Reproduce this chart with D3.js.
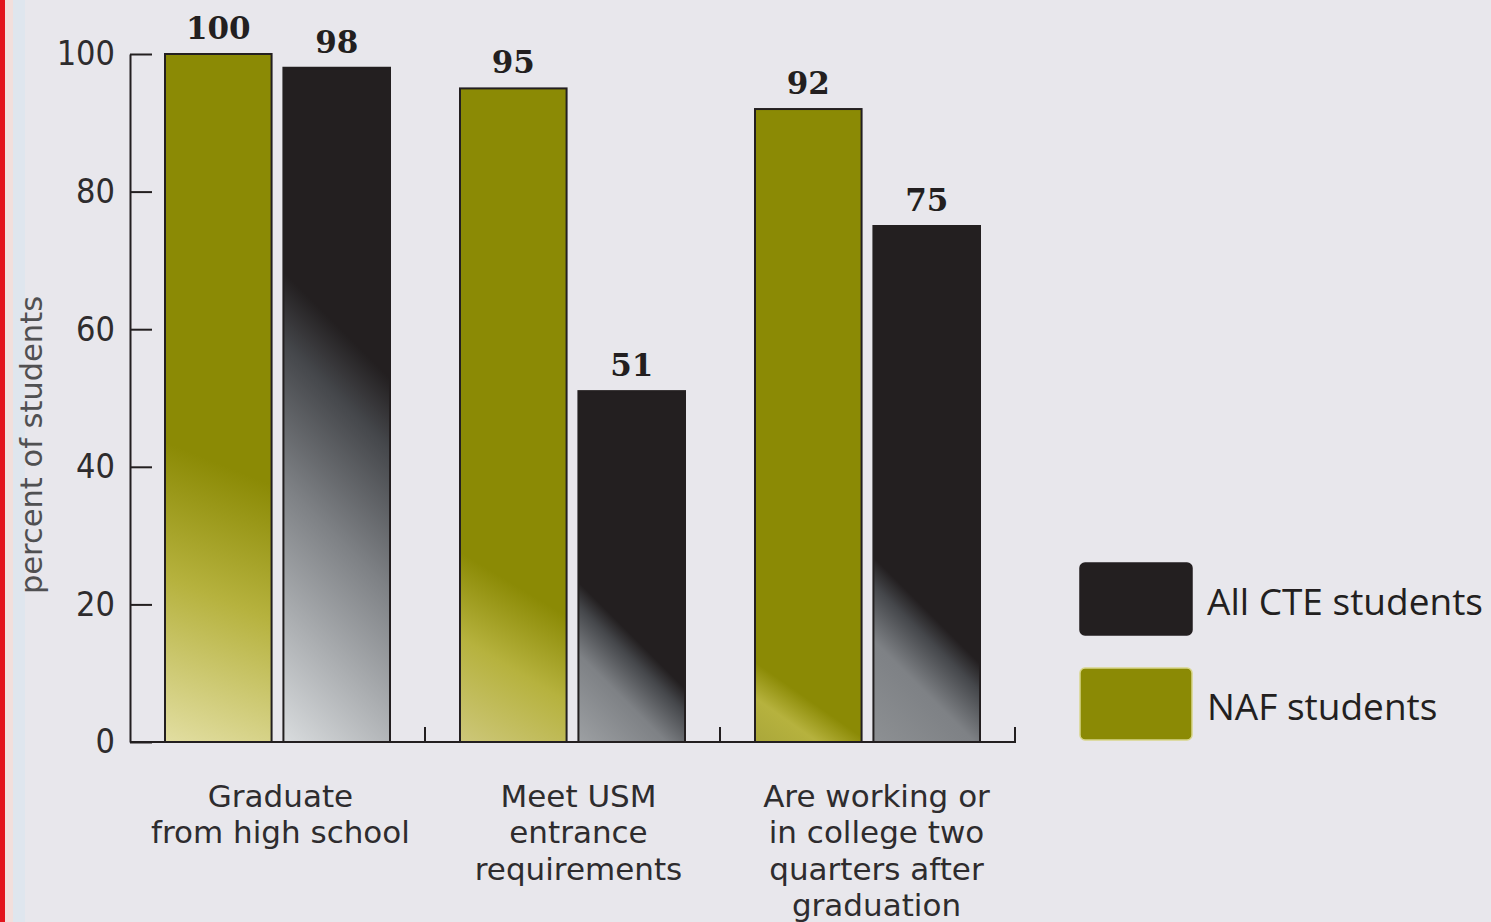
<!DOCTYPE html>
<html>
<head>
<meta charset="utf-8">
<script src="https://cdn.jsdelivr.net/npm/d3@7"></script>
<style>
  html, body { margin: 0; padding: 0; background: #e8e7ec; }
  svg { display: block; }
</style>
</head>
<body>
<svg id="chart" width="1491" height="922"></svg>
<script>
// Outcomes for NAF students compared with all CTE students
const categories = [
  ["Graduate", "from high school"],
  ["Meet USM", "entrance", "requirements"],
  ["Are working or", "in college two", "quarters after", "graduation"]
];
const seriesNames = ["NAF students", "All CTE students"];
const nafValues = [100, 95, 92];
const cteValues = [98, 51, 75];
const yTicks = [0, 20, 40, 60, 80, 100];
const yTitle = "percent of students";

// Shading of each bar: how high the light wash reaches, its slant, and its palest colour
const nafShade = [
  { reach: 300, slant: 0.4, light: "#e2dea2" },
  { reach: 190, slant: 0.6, light: "#cdc77a" },
  { reach: 80,  slant: 0.7, light: "#aaa73a" }
];
const cteShade = [
  { reach: 470, slant: 1.0, light: "#d9dcde" },
  { reach: 160, slant: 1.0, light: "#9da0a3" },
  { reach: 185, slant: 1.0, light: "#8d9093" }
];

const NAF_COLOR = "#8b8a05";
const CTE_COLOR = "#231f20";

const svg = d3.select("#chart");
const defs = svg.append("defs");

// page frame: red rule on the left edge
svg.append("rect").attr("x", 0).attr("y", 0).attr("width", 1491).attr("height", 922).attr("fill", "#e8e7ec");
svg.append("rect").attr("x", 5).attr("y", 0).attr("width", 8).attr("height", 922).attr("fill", "#f2dfdc");
svg.append("rect").attr("x", 13).attr("y", 0).attr("width", 12).attr("height", 922).attr("fill", "#dfe6ee");
svg.append("rect").attr("x", 0).attr("y", 0).attr("width", 5).attr("height", 922).attr("fill", "#e3141b");

const plotLeft = 130, plotRight = 1015, plotTop = 54, plotBottom = 742;

const x0 = d3.scaleBand().domain(d3.range(categories.length)).range([plotLeft, plotRight]).padding(0);
const x1 = d3.scaleBand().domain([0, 1]).range([35, x0.bandwidth() - 35]).paddingInner(0.1).paddingOuter(0);
const y = d3.scaleLinear().domain([0, 100]).range([plotBottom, plotTop]);

// y axis with inward ticks
const yAxis = svg.append("g")
  .attr("transform", `translate(${plotLeft},0)`)
  .call(d3.axisLeft(y).tickValues(yTicks).tickSizeInner(-22).tickSizeOuter(0).tickPadding(15));
yAxis.select(".domain").attr("stroke", "#231f20").attr("stroke-width", 2);
yAxis.selectAll(".tick line").attr("stroke", "#231f20").attr("stroke-width", 2);
yAxis.selectAll(".tick text")
  .attr("font-family", "'DejaVu Sans Condensed', 'DejaVu Sans', Verdana, sans-serif")
  .attr("font-stretch", "condensed")
  .attr("font-size", 34).attr("fill", "#2e2c2e");

svg.append("text")
  .attr("transform", "translate(42,445) rotate(-90)")
  .attr("text-anchor", "middle")
  .attr("font-family", "'DejaVu Sans', Verdana, sans-serif")
  .attr("font-size", 30.5).attr("fill", "#505052")
  .text(yTitle);

// bars
const rows = categories.map((c, i) => ({ i, values: [nafValues[i], cteValues[i]] }));

function addGradient(id, bx, by, bw, bh, shade, dark, stops) {
  const k = shade.slant, t = shade.reach / (k * k + 1);
  const g = defs.append("linearGradient").attr("id", id)
    .attr("gradientUnits", "userSpaceOnUse")
    .attr("x1", bx).attr("y1", by + bh)
    .attr("x2", bx + k * t).attr("y2", by + bh - t);
  stops.forEach(s => g.append("stop").attr("offset", s[0]).attr("stop-color", s[1] === "L" ? shade.light : s[1] === "D" ? dark : s[1]));
}

rows.forEach(r => {
  const gx = x0(r.i);
  r.values.forEach((v, j) => {
    const bx = gx + x1(j), bw = x1.bandwidth(), by = y(v), bh = y(0) - y(v);
    const id = `shade-${r.i}-${j}`;
    if (j === 0) {
      addGradient(id, bx, by, bw, bh, nafShade[r.i], NAF_COLOR,
        [[0, "L"], [0.55, "#b6b23e"], [1, "D"]]);
    } else {
      addGradient(id, bx, by, bw, bh, cteShade[r.i], CTE_COLOR,
        [[0, "L"], [0.55, "#7e8185"], [0.85, "#45474b"], [1, "D"]]);
    }
    svg.append("rect")
      .attr("x", bx).attr("y", by).attr("width", bw).attr("height", bh)
      .attr("fill", `url(#${id})`)
      .attr("stroke", "#231f20").attr("stroke-width", 2);
    svg.append("text")
      .attr("x", bx + bw / 2).attr("y", by - 15)
      .attr("text-anchor", "middle")
      .attr("font-family", "'DejaVu Serif', Georgia, serif")
      .attr("font-weight", "bold").attr("font-size", 31)
      .attr("fill", "#231f20")
      .text(v);
  });
});

// baseline with group separators
const xAxis = svg.append("g").attr("transform", `translate(0,${plotBottom})`);
xAxis.append("line").attr("x1", plotLeft).attr("x2", plotRight + 1).attr("y1", 0).attr("y2", 0)
  .attr("stroke", "#231f20").attr("stroke-width", 2);
xAxis.selectAll(".sep").data(d3.range(categories.length)).join("line")
  .attr("class", "sep")
  .attr("x1", d => x0(d) + x0.bandwidth()).attr("x2", d => x0(d) + x0.bandwidth())
  .attr("y1", 0).attr("y2", -15)
  .attr("stroke", "#231f20").attr("stroke-width", 2);

// category labels
const catText = svg.selectAll(".cat").data(categories).join("text")
  .attr("class", "cat")
  .attr("text-anchor", "middle")
  .attr("font-family", "'DejaVu Sans', Verdana, sans-serif")
  .attr("font-size", 31).attr("fill", "#2e2c2e");
catText.each(function (lines, i) {
  const cx = x0(i) + x0.bandwidth() / 2 + 3 + 3 * i;
  d3.select(this).selectAll("tspan").data(lines).join("tspan")
    .attr("x", cx).attr("y", (d, k) => 807 + k * 36.3)
    .text(d => d);
});

// legend
const legend = svg.append("g");
const legendItems = [
  { name: seriesNames[1], color: CTE_COLOR, stroke: "#231f20" },
  { name: seriesNames[0], color: NAF_COLOR, stroke: "#d8d68a" }
];
legendItems.forEach((d, i) => {
  const ly = 563 + i * 105;
  legend.append("rect").attr("x", 1080).attr("y", ly).attr("width", 112).attr("height", 72)
    .attr("rx", 5).attr("fill", d.color).attr("stroke", d.stroke).attr("stroke-width", 1.5);
  legend.append("text").attr("x", 1207).attr("y", ly + 52)
    .attr("font-family", "'Open Sans', Lato, sans-serif")
    .attr("font-size", 37).attr("fill", "#231f20")
    .text(d.name);
});
</script>
</body>
</html>
